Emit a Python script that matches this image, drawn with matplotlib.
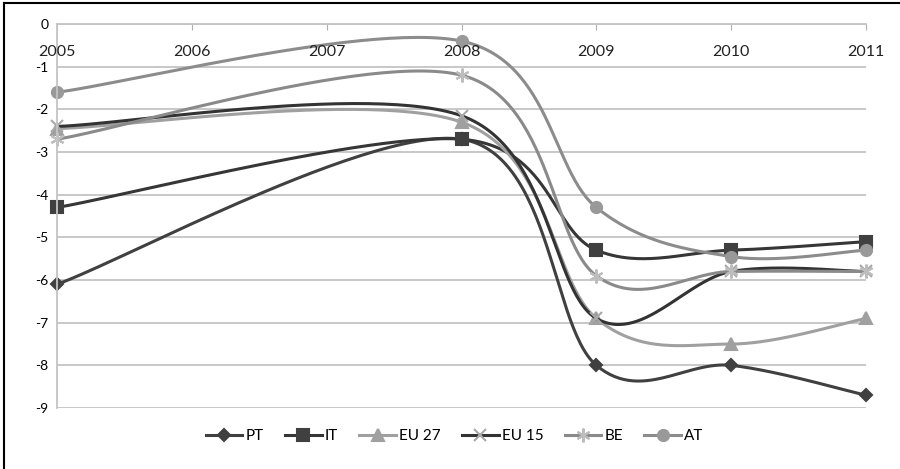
import matplotlib.pyplot as plt
import numpy as np
from matplotlib.lines import Line2D

plt.rcParams['font.family'] = ['Lato', 'DejaVu Sans']

categories = [2005, 2006, 2007, 2008, 2009, 2010, 2011]
years = [2005, 2008, 2009, 2010, 2011]

pt = [-6.1, -2.7, -8.0, -8.0, -8.7]
it = [-4.3, -2.7, -5.3, -5.3, -5.1]
eu27 = [-2.45, -2.3, -6.9, -7.5, -6.9]
eu15 = [-2.4, -2.15, -6.9, -5.8, -5.8]
be = [-2.7, -1.2, -5.9, -5.8, -5.8]
at = [-1.6, -0.4, -4.3, -5.45, -5.3]

def smooth(x, y, n=60):
    # catmull-rom style bezier, like excel's "smoothed line"
    p = np.column_stack([x, y]).astype(float)
    out = []
    for i in range(len(p) - 1):
        p0 = p[i - 1] if i > 0 else p[i]
        p1 = p[i]
        p2 = p[i + 1]
        p3 = p[i + 2] if i + 2 < len(p) else p[i + 1]
        c1 = p1 + (p2 - p0) / 6
        c2 = p2 - (p3 - p1) / 6
        t = np.linspace(0, 1, n)[:, None]
        seg = (1 - t)**3 * p1 + 3 * (1 - t)**2 * t * c1 + 3 * (1 - t) * t**2 * c2 + t**3 * p2
        out.append(seg)
    s = np.vstack(out)
    return s[:, 0], s[:, 1]

series = [
    ('PT', pt, '#404040', 'D', '#404040', 6.5),
    ('IT', it, '#363636', 's', '#404040', 8),
    ('EU 27', eu27, '#a0a0a0', '^', '#a0a0a0', 8),
    ('EU 15', eu15, '#333333', 'x', '#a8a8a8', 8),
    ('BE', be, '#8a8a8a', (6, 2, 0), '#bdbdbd', 10),
    ('AT', at, '#8c8c8c', 'o', '#999999', 8),
]

fig = plt.figure(figsize=(9, 4.69), dpi=100)
ax = fig.add_axes([0.0633, 0.13, 0.899, 0.8188])

handles = []
for name, vals, lc, mk, mc, ms in series:
    sx, sy = smooth(years, vals)
    ax.plot(sx, sy, color=lc, lw=2.2, solid_capstyle='round', clip_on=False)
    ax.plot(years, vals, ls='none', marker=mk, ms=ms, color=mc,
            markeredgecolor=mc, markeredgewidth=1.5, clip_on=False)
    handles.append(Line2D([], [], color=lc, lw=2.2, marker=mk, ms=ms,
                          markerfacecolor=mc, markeredgecolor=mc, markeredgewidth=1.5))

ax.set_xlim(2005, 2011)
ax.set_ylim(-9, 0)
ax.set_yticks(range(-9, 1))
ax.set_yticklabels([str(v) for v in range(-9, 1)], fontsize=11.5, color='#222222')
ax.yaxis.grid(True, color='#c4c4c4', lw=1.3)
ax.set_axisbelow(True)
ax.tick_params(axis='y', length=0, pad=6)

ax.set_xticks(categories)
ax.set_xticklabels([])
ax.tick_params(axis='x', length=4, direction='in', top=True, bottom=False, color='#b0b0b0')
for c in categories:
    ax.text(c, -0.66, str(c), ha='center', va='center', fontsize=11.5, color='#222222')

for side in ['right', 'bottom']:
    ax.spines[side].set_visible(False)
ax.spines['top'].set_color('#c4c4c4')
ax.spines['top'].set_linewidth(1.3)
ax.spines['left'].set_color('#c4c4c4')
ax.spines['left'].set_linewidth(1.3)
ax.spines['left'].set_position(('data', 2005))

fig.legend(handles, [s[0] for s in series], loc='center', bbox_to_anchor=(0.505, 1 - 436 / 469),
           ncol=6, frameon=False, fontsize=11, handlelength=2.4, handletextpad=0.2,
           columnspacing=1.4)

# outer frame (top and left edges visible in the reference)
fig.add_artist(Line2D([0.004, 1], [0.994, 0.994], color='black', lw=1.5, transform=fig.transFigure))
fig.add_artist(Line2D([0.004, 0.004], [0, 0.994], color='black', lw=1.5, transform=fig.transFigure))

fig.savefig('out.png', dpi=100)
